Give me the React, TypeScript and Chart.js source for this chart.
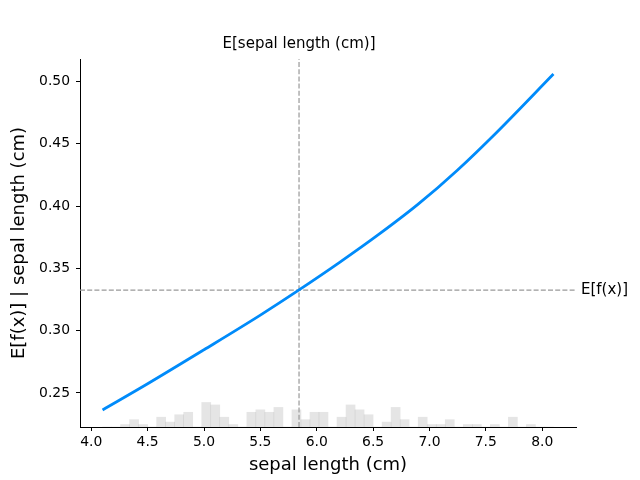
import React, { useEffect, useRef } from "react";
import { Chart, registerables } from "chart.js";

Chart.register(...registerables);

// Partial dependence curve
const CURVE_X = [4.1, 4.5, 5.0, 5.5, 5.84, 6.2, 6.55, 6.9, 7.25, 7.6, 8.1];
const CURVE_Y = [0.2364, 0.2574, 0.2847, 0.3125, 0.3325, 0.3546, 0.3772, 0.4015, 0.429, 0.4595, 0.506];

// Histogram of sepal length (50 bins from 4.1 to 8.1)
const HIST_START = 4.1;
const HIST_WIDTH = 0.08;
const HIST_COUNTS = [
  0, 0, 1, 3, 1, 0, 4, 2, 5, 6,
  0, 10, 9, 4, 1, 0, 6, 7, 6, 8,
  0, 7, 3, 6, 6, 0, 4, 9, 7, 5,
  0, 2, 8, 3, 0, 4, 1, 1, 3, 0,
  1, 1, 0, 1, 0, 4, 0, 1, 0, 0,
];
const HIST_TOTAL = 150;

// Expected values
const MEAN_X = 5.843;
const MEAN_FX = 0.3325;

// Axes
const X_MIN = 3.9;
const X_MAX = 8.3;
const Y_MIN = 0.2227;
const Y_MAX = 0.518;
const X_TICKS = [4.0, 4.5, 5.0, 5.5, 6.0, 6.5, 7.0, 7.5, 8.0];
const Y_TICKS = [0.25, 0.3, 0.35, 0.4, 0.45, 0.5];

const X_LABEL = "sepal length (cm)";
const Y_LABEL = "E[f(x)] | sepal length (cm)";
const TOP_LABEL = "E[sepal length (cm)]";
const RIGHT_LABEL = "E[f(x)]";

const FONT = "'DejaVu Sans', sans-serif";

export default function App() {
  const ref = useRef<HTMLCanvasElement>(null);

  useEffect(() => {
    if (!ref.current) return;
    Chart.defaults.font.family = FONT;

    const annot = {
      id: "annot",
      afterDraw(chart: any) {
        const { ctx, scales, chartArea } = chart;
        ctx.save();
        ctx.fillStyle = "#000";
        ctx.font = `15px ${FONT}`;
        ctx.textAlign = "center";
        ctx.textBaseline = "middle";
        ctx.fillText(TOP_LABEL, scales.x.getPixelForValue(MEAN_X), chartArea.top - 15);
        ctx.textAlign = "left";
        ctx.fillText(RIGHT_LABEL, chartArea.right + 5, scales.y.getPixelForValue(MEAN_FX));
        ctx.restore();
      },
    };

    const chart = new Chart(ref.current, {
      type: "line",
      data: {
        datasets: [
          {
            type: "line",
            data: CURVE_X.map((x, i) => ({ x, y: CURVE_Y[i] })),
            borderColor: "#008bfa",
            borderWidth: 2.8,
            pointRadius: 0,
            cubicInterpolationMode: "monotone",
            order: 0,
            yAxisID: "y",
          } as any,
          {
            type: "line",
            data: [
              { x: MEAN_X, y: Y_MIN },
              { x: MEAN_X, y: Y_MAX },
            ],
            borderColor: "#999999",
            borderWidth: 1.2,
            borderDash: [5, 2.2],
            pointRadius: 0,
            order: 1,
            yAxisID: "y",
          } as any,
          {
            type: "line",
            data: [
              { x: X_MIN, y: MEAN_FX },
              { x: X_MAX, y: MEAN_FX },
            ],
            borderColor: "#999999",
            borderWidth: 1.2,
            borderDash: [5, 2.2],
            pointRadius: 0,
            order: 1,
            yAxisID: "y",
          } as any,
          {
            type: "bar",
            data: HIST_COUNTS.map((c, i) => ({ x: HIST_START + HIST_WIDTH * (i + 0.5), y: c })),
            backgroundColor: "rgba(0,0,0,0.1)",
            borderWidth: 0,
            barPercentage: 1,
            categoryPercentage: 1,
            order: 2,
            yAxisID: "y2",
          } as any,
        ],
      },
      options: {
        animation: false,
        responsive: false,
        devicePixelRatio: 1,
        layout: { padding: { top: 59, right: 64, left: 0, bottom: 0 } },
        plugins: {
          legend: { display: false },
          tooltip: { enabled: false },
        },
        scales: {
          x: {
            type: "linear",
            min: X_MIN,
            max: X_MAX,
            offset: false,
            afterBuildTicks: (s: any) => {
              s.ticks = X_TICKS.map((v) => ({ value: v }));
            },
            afterFit: (s: any) => {
              s.height = 53;
            },
            ticks: {
              color: "#000",
              font: { size: 13.9 },
              padding: 3,
              maxRotation: 0,
              callback: (v: any) => Number(v).toFixed(1),
            },
            grid: {
              offset: false,
              drawOnChartArea: false,
              drawTicks: true,
              tickLength: 4,
              tickColor: "#000",
            },
            border: { display: true, color: "#000", width: 1 },
            title: {
              display: true,
              text: X_LABEL,
              color: "#000",
              font: { size: 18 },
              padding: { top: 0, bottom: 4 },
            },
          },
          y: {
            type: "linear",
            position: "left",
            min: Y_MIN,
            max: Y_MAX,
            afterBuildTicks: (s: any) => {
              s.ticks = Y_TICKS.map((v) => ({ value: v }));
            },
            afterFit: (s: any) => {
              s.width = 80;
            },
            ticks: {
              color: "#000",
              font: { size: 13.9 },
              padding: 6,
              callback: (v: any) => Number(v).toFixed(2),
            },
            grid: {
              offset: false,
              drawOnChartArea: false,
              drawTicks: true,
              tickLength: 4,
              tickColor: "#000",
            },
            border: { display: true, color: "#000", width: 1 },
            title: {
              display: true,
              text: Y_LABEL,
              color: "#000",
              font: { size: 18 },
              padding: { top: 9, bottom: 0 },
            },
          },
          y2: {
            type: "linear",
            display: false,
            position: "right",
            min: 0,
            max: HIST_TOTAL,
          },
        },
      },
      plugins: [annot],
    } as any);

    return () => chart.destroy();
  }, []);

  return (
    <div style={{ position: "absolute", left: 0, top: 0, width: 640, height: 480, background: "#fff" }}>
      <canvas ref={ref} width={640} height={480} style={{ display: "block" }} />
    </div>
  );
}
